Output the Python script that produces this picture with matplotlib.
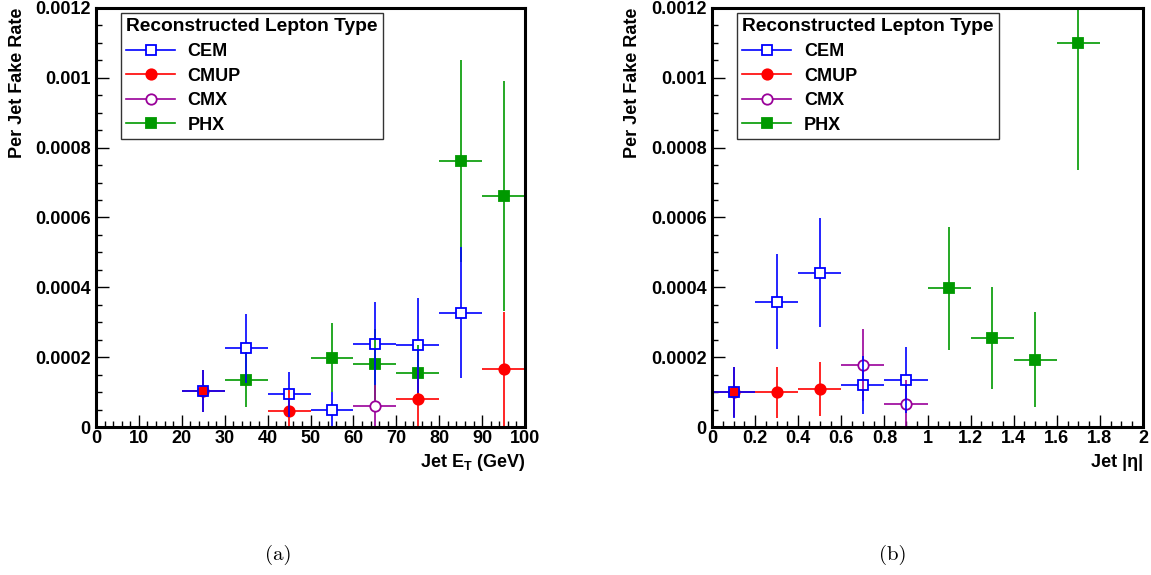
# Per-jet fake rate vs jet ET and |eta|, by reconstructed lepton type
import numpy as np
import matplotlib
matplotlib.use('Agg')
import matplotlib.pyplot as plt
from matplotlib.collections import LineCollection
from matplotlib.lines import Line2D
from matplotlib.ticker import MultipleLocator, FuncFormatter

plt.rcParams['font.family'] = ['Liberation Sans', 'DejaVu Sans']
plt.rcParams['font.weight'] = 'bold'
plt.rcParams['font.size'] = 13

# ---------------- data: left panel, vs jet ET (GeV) ----------------
et_bin = 5.0
et_cem_x = [25, 35, 45, 55, 65, 75, 85]
et_cem_y = [1.02e-4, 2.25e-4, 0.94e-4, 0.50e-4, 2.39e-4, 2.34e-4, 3.27e-4]
et_cem_e = [0.60e-4, 1.00e-4, 0.64e-4, 0.50e-4, 1.20e-4, 1.36e-4, 1.88e-4]
et_cmup_x = [25, 45, 75, 95]
et_cmup_y = [1.02e-4, 0.46e-4, 0.79e-4, 1.65e-4]
et_cmup_e = [0.60e-4, 0.60e-4, 0.85e-4, 1.65e-4]
et_cmx_x = [65]
et_cmx_y = [0.60e-4]
et_cmx_e = [0.60e-4]
et_phx_x = [35, 55, 65, 75, 85, 95]
et_phx_y = [1.36e-4, 1.99e-4, 1.79e-4, 1.56e-4, 7.62e-4, 6.62e-4]
et_phx_e = [0.79e-4, 1.00e-4, 1.03e-4, 0.80e-4, 2.90e-4, 3.30e-4]

# ---------------- data: right panel, vs jet |eta| ----------------
eta_bin = 0.1
eta_cem_x = [0.1, 0.3, 0.5, 0.7, 0.9]
eta_cem_y = [0.99e-4, 3.59e-4, 4.42e-4, 1.19e-4, 1.34e-4]
eta_cem_e = [0.72e-4, 1.36e-4, 1.57e-4, 0.83e-4, 0.95e-4]
eta_cmup_x = [0.1, 0.3, 0.5]
eta_cmup_y = [1.00e-4, 1.00e-4, 1.09e-4]
eta_cmup_e = [0.72e-4, 0.73e-4, 0.77e-4]
eta_cmx_x = [0.7, 0.9]
eta_cmx_y = [1.77e-4, 0.67e-4]
eta_cmx_e = [1.03e-4, 0.67e-4]
eta_phx_x = [1.1, 1.3, 1.5, 1.7]
eta_phx_y = [3.97e-4, 2.55e-4, 1.92e-4, 11.0e-4]
eta_phx_e = [1.77e-4, 1.47e-4, 1.36e-4, 3.65e-4]

labels = ['CEM', 'CMUP', 'CMX', 'PHX']
colors = {'CEM': '#0000ff', 'CMUP': '#ff0000', 'CMX': '#990099', 'PHX': '#009900'}
markers = {'CEM': 's', 'CMUP': 'o', 'CMX': 'o', 'PHX': 's'}
hollow = {'CEM': True, 'CMUP': False, 'CMX': True, 'PHX': False}

W, H = 1151, 575
fig = plt.figure(figsize=(W / 100, H / 100), dpi=100)
ax1 = fig.add_axes([96 / W, 1 - 427 / H, 429 / W, 419 / H])
ax2 = fig.add_axes([712 / W, 1 - 427 / H, 431 / W, 419 / H])


def draw_series(ax, x, y, ey, bw, name, gap_px=5):
    # ROOT-like error cross with a gap around the marker
    x0, x1 = ax.get_xlim()
    y0, y1 = ax.get_ylim()
    bb = ax.get_window_extent()
    gx = gap_px * (x1 - x0) / bb.width
    gy = gap_px * (y1 - y0) / bb.height
    segs = []
    for xi, yi, ei in zip(x, y, ey):
        segs.append([(xi - bw, yi), (xi - gx, yi)])
        segs.append([(xi + gx, yi), (xi + bw, yi)])
        if ei > gy:
            segs.append([(xi, yi - ei), (xi, yi - gy)])
            segs.append([(xi, yi + gy), (xi, yi + ei)])
    c = colors[name]
    ax.add_collection(LineCollection(segs, colors=c, linewidths=1.2))
    ax.plot(x, y, ls='none', marker=markers[name], ms=7.5, mec=c, mew=1.3,
            mfc='none' if hollow[name] else c, clip_on=True)


def style_axis(ax, xmax, xmaj, xmin):
    ax.set_xlim(0, xmax)
    ax.set_ylim(0, 0.0012)
    ax.xaxis.set_major_locator(MultipleLocator(xmaj))
    ax.xaxis.set_minor_locator(MultipleLocator(xmin))
    ax.yaxis.set_major_locator(MultipleLocator(0.0002))
    ax.yaxis.set_minor_locator(MultipleLocator(0.00005))
    fmt = FuncFormatter(lambda v, p: '%g' % round(v, 8))
    ax.xaxis.set_major_formatter(fmt)
    ax.yaxis.set_major_formatter(fmt)
    ax.tick_params(which='both', direction='in', top=False, right=False,
                   width=1.0, labelsize=13)
    ax.tick_params(which='major', length=9, pad=2)
    ax.tick_params(axis='y', which='major', pad=4)
    ax.tick_params(which='minor', length=4.5)
    for s in ax.spines.values():
        s.set_linewidth(2.2)
    ax.text(-0.184, 1.0, 'Per Jet Fake Rate', rotation=90, ha='center', va='top',
            transform=ax.transAxes, fontsize=13, fontweight='bold')


style_axis(ax1, 100, 10, 2)
style_axis(ax2, 2, 0.2, 0.05)

# draw order: PHX, CMUP, CMX, CEM
draw_series(ax1, et_phx_x, et_phx_y, et_phx_e, et_bin, 'PHX')
draw_series(ax1, et_cmup_x, et_cmup_y, et_cmup_e, et_bin, 'CMUP')
draw_series(ax1, et_cmx_x, et_cmx_y, et_cmx_e, et_bin, 'CMX')
draw_series(ax1, et_cem_x, et_cem_y, et_cem_e, et_bin, 'CEM')

draw_series(ax2, eta_phx_x, eta_phx_y, eta_phx_e, eta_bin, 'PHX')
draw_series(ax2, eta_cmup_x, eta_cmup_y, eta_cmup_e, eta_bin, 'CMUP')
draw_series(ax2, eta_cmx_x, eta_cmx_y, eta_cmx_e, eta_bin, 'CMX')
draw_series(ax2, eta_cem_x, eta_cem_y, eta_cem_e, eta_bin, 'CEM')

ax1.text(1.0, -0.085, r'Jet E$_\mathregular{T}$ (GeV)', ha='right', va='center',
         transform=ax1.transAxes, fontsize=13, fontweight='bold')
ax2.text(1.0, -0.085, 'Jet |\u03b7|', ha='right', va='center',
         transform=ax2.transAxes, fontsize=13, fontweight='bold')

handles = [Line2D([], [], color=colors[n], lw=1.2, marker=markers[n], ms=7.5,
                  mec=colors[n], mew=1.3, mfc='white' if hollow[n] else colors[n])
           for n in labels]
for ax in (ax1, ax2):
    leg = ax.legend(handles, labels, title='Reconstructed Lepton Type',
                    loc='upper left', bbox_to_anchor=(0.058, 0.988),
                    frameon=True, fancybox=False, edgecolor='black',
                    handlelength=2.7, labelspacing=0.42, borderpad=0.3,
                    handletextpad=0.7, borderaxespad=0,
                    prop={'weight': 'bold', 'size': 13},
                    title_fontproperties={'weight': 'bold', 'size': 13.8})
    leg.get_frame().set_linewidth(1.0)
    leg._legend_box.align = 'left'

fig.text(278 / W, 1 - 555 / H, '(a)', family='cmr10', fontsize=15,
         ha='center', va='center', fontweight='normal')
fig.text(893 / W, 1 - 555 / H, '(b)', family='cmr10', fontsize=15,
         ha='center', va='center', fontweight='normal')

fig.savefig('out.png', dpi=100)
